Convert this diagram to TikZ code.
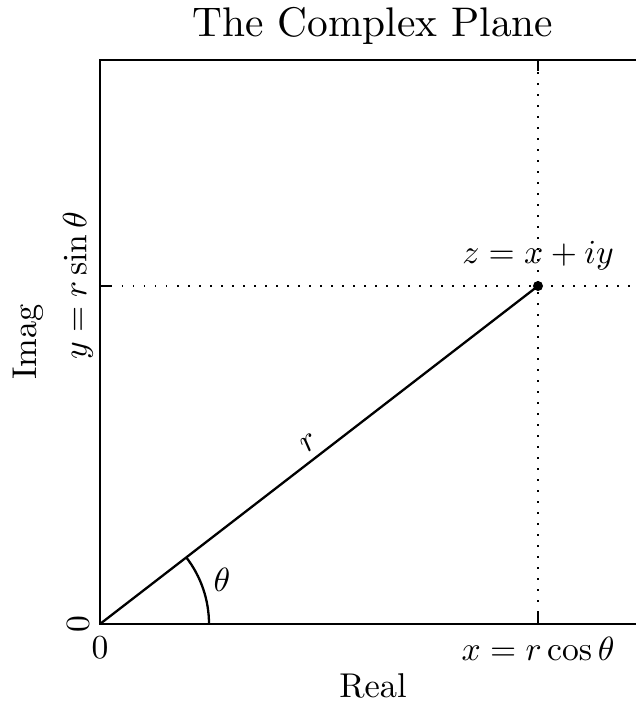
\documentclass[tikz,border=0pt]{standalone}
\usepackage{amsmath}
\usetikzlibrary{positioning}
\tikzset{
  frame/.style={line width=1.35pt},
  guide/.style={line width=0.75pt, dash pattern=on 0.75pt off 4.75pt},
  tickmark/.style={line width=0.7pt},
  ticklbl/.style={scale=1.68, inner sep=0pt},
  axislbl/.style={scale=1.72, inner sep=0pt},
}
\begin{document}
\begin{tikzpicture}[x=0.5pt, y=0.5pt]
    \useasboundingbox (-100,-78) rectangle (536,624);
    \clip (-100,-78) rectangle (536,624);
    % plot frame, right side runs past the page
    \coordinate (O) at (0,0);
    \coordinate (xm) at (438,0);
    \coordinate (ym) at (0,338);
    \coordinate (xtop) at (438,564);
    \coordinate (yend) at (560,338);
    \draw [frame] (O) rectangle (560,564);
    % guides through z
    \draw [guide] (xm) -- (xtop);
    \draw [guide] (ym) -- (yend);
    % ticks
    \foreach \tx in {0,438} {
        \draw [tickmark] (\tx,0) -- ++(0,11);
        \draw [tickmark] (\tx,564) -- ++(0,-11);
    }
    \foreach \ty in {0,338}
        \draw [tickmark] (0,\ty) -- ++(11,0);
    % point and radius
    \node (z) [circle, fill, inner sep=0pt, minimum size=5pt] at (438,338) {};
    \draw [line width=1.15pt] (O) -- node [pos=0.5, above, sloped, scale=1.68, inner sep=2pt] {$r$} (z.center);
    \draw [line width=1.15pt] (109,0) arc [start angle=0, end angle=37.66, radius=109];
    \node (theta) [ticklbl] at (122,44) {$\theta$};
    \node (zlbl) [ticklbl, anchor=base] at (438,360) {$z = x + iy$};
    % tick labels
    \node (x0) [ticklbl, anchor=north] at (0,-12) {$0$};
    \node (xcos) [ticklbl, anchor=north] at (438,-12) {$x = r\cos\theta$};
    \node (y0) [ticklbl, rotate=90] at (-22,0) {$0$};
    \node (ysin) [ticklbl, rotate=90] at (-22,338) {$y = r\sin\theta$};
    % axis labels and title
    \node (real) [axislbl] at (273,-62) {Real};
    \node (imag) [axislbl, rotate=90] at (-72,282) {Imag};
    \node (title) [scale=2.07, inner sep=0pt] at (273,598) {The Complex Plane};
\end{tikzpicture}
\end{document}
